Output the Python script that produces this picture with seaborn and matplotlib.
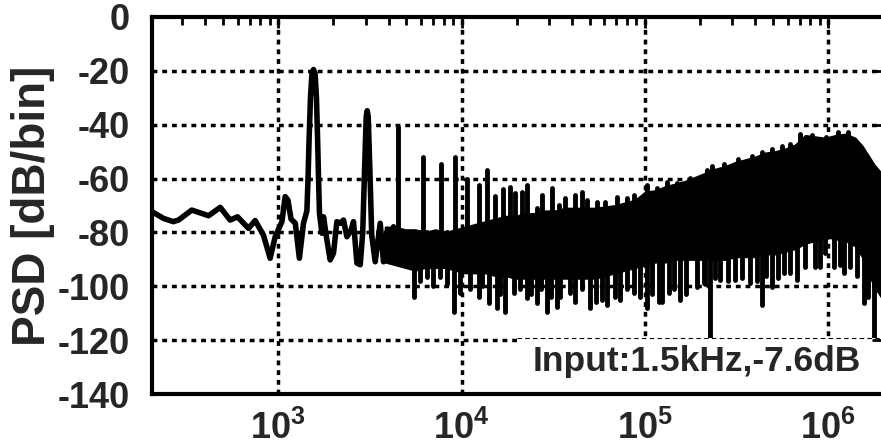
import numpy as np
import pandas as pd
import matplotlib
matplotlib.use("Agg")
import matplotlib.pyplot as plt
from matplotlib.patches import Rectangle
from matplotlib.ticker import FixedLocator, FixedFormatter, LogLocator, NullFormatter
import seaborn as sns

#%% data (Hz, dB/bin)
# low-frequency trace incl. fundamental and 2nd harmonic
lf_freq = [205, 237, 268, 286, 338, 417, 483, 547, 600, 689, 749, 831, 904, 963, 1048,
           1092, 1130, 1175, 1240, 1305, 1374, 1434, 1455, 1475, 1500, 1528, 1558, 1590,
           1617, 1640, 1660, 1680, 1732, 1767, 1844, 1921, 2003, 2090, 2179, 2271, 2370,
           2502, 2575, 2688, 2802, 2891, 2965, 3021, 3059, 3097, 3157, 3237, 3382, 3602,
           3753, 3918, 4083, 4256]
lf_db = [-72.3, -74.8, -76.0, -75.4, -71.7, -73.8, -70.7, -75.4, -74.2, -78.5, -75.6, -81.0,
         -89.6, -81.6, -76.0, -66.7, -68.0, -75.0, -76.6, -89.6, -76.6, -72.0, -60, -45, -30,
         -21, -19.5, -21, -30, -45, -60, -73, -80.3, -74.2, -82.8, -90.2, -87.7, -76.0,
         -76.6, -75.4, -81.6, -79.0, -76.0, -91.4, -92.0, -80, -55, -37, -34.8, -37, -55,
         -81, -90.9, -76.6, -90.9, -79.7, -89.5, -77.9]

# dense noise floor: upper / lower edge of the black band
band_freq = [3836, 4348, 4932, 5591, 6339, 7188, 8151, 9242, 10480, 11880, 13470, 15270,
             17310, 19630, 22260, 25240, 28620, 32450, 36790, 41720, 47300, 53630, 60810,
             68950, 78180, 88630, 100500, 114000, 129200, 146500, 166100, 188300, 213500,
             242100, 274500, 311200, 352900, 400200, 453800, 514500, 583300, 661400,
             749900, 850300, 964100, 1093000, 1239000, 1405000, 1535000, 1655000, 1784000,
             1948000]
band_top = [-78, -78, -79, -79, -80, -79, -80, -79, -78, -77, -76, -75, -74, -74, -73, -73,
            -72, -72, -71, -71, -71, -71, -70.5, -70, -69, -68, -65, -64.5, -63, -62, -61,
            -59.5, -58, -56.5, -55.5, -54, -53, -52, -50.5, -50, -49, -47.5, -44, -44.5,
            -45, -44, -43.5, -45, -48, -51.5, -55, -58]
band_bot = [-91, -92, -93, -94, -93, -93, -93, -94, -95, -95, -95, -96, -96, -97, -97, -97,
            -97, -97, -97, -97, -97, -97, -96, -95, -94, -93, -92, -91, -91, -90, -90,
            -90, -90, -90, -90, -89, -89, -89, -88, -88, -87, -86, -84, -83, -82, -82, -83,
            -85, -89, -95, -100, -104]

# harmonic spikes / teeth above the floor
harm_freq = [4530, 6160, 7720, 9240, 10700, 12380, 13760, 15270, 16820, 18440, 19630, 21360,
             22750, 25790, 27470, 31140, 33830, 36810, 41720, 45390, 48330, 54810, 60810,
             70460, 79890, 86800, 102700, 116500, 132000, 149700, 176900, 218200,
             233300, 271100, 323200, 385300, 436900, 495500, 561800, 621300, 704500,
             818900, 976300, 1136000, 1287000]
harm_db = [-40.7, -52, -54.5, -52, -60, -62.5, -57, -66.5, -64, -63, -65.5, -65, -62.5, -71,
           -66, -63.5, -70, -67.3, -66.1, -64.9, -68, -68.6, -68.6, -66.7, -67.3, -66.1,
           -62.4, -63.6, -61.2, -61.8, -59.9, -56.8,
           -55.5, -54.5, -52.8, -51.5, -50, -49, -48, -47, -43.5, -43.8, -44.5, -42.8, -42.8]

# downward notches below the floor
dip_freq = [5473, 5955, 6476, 7008, 7655, 8356, 9048, 9840, 11160, 12380, 12970, 14040,
            15610, 16260, 17310, 19210, 20900, 22740, 24010, 25790, 27220, 29240, 30860,
            33160, 34560, 39180, 41720, 45550, 50380, 54310, 58340, 62130, 68950, 73400,
            80200, 86790, 94400, 102700, 109700, 118800, 124400, 134700, 144700, 156100,
            168200, 192400, 209000, 213500, 227500, 242100, 257900, 285000, 311300, 339900,
            375800, 410400, 435500, 459500, 493500, 534100, 571100, 621300, 675900, 749900,
            850300, 905600, 964100, 1070000, 1164000, 1213000, 1320000, 1441000, 1560000,
            1655000, 1769000]
dip_db = [-103.8, -98, -96.4, -100, -96.4, -99, -109.4, -102.6, -101, -103.8, -100, -106.3,
          -108.2, -103, -109.4, -102.6, -101, -104.5, -103, -106.3, -101, -109.4, -104,
          -107.6, -104, -102.6, -106, -101, -108.2, -106, -105.1, -107, -103.8, -105,
          -101, -102.6, -104, -108.2, -103, -105.7, -106, -102.6, -101, -105.1,
          -103, -100.1, -98.9, -99, -125, -97, -97.7, -98, -97.7, -97,
          -98.9, -98, -107, -96, -100.1, -97, -95.2, -95, -97.7, -93,
          -92.7, -93, -87.8, -92.7, -92, -95.2, -93, -96, -106.3,
          -104, -125]

yticks = list(range(-140, 1, 20))
xticks = [1e3, 1e4, 1e5, 1e6]
xticklabels = [r'$10^{3}$', r'$10^{4}$', r'$10^{5}$', r'$10^{6}$']

#%% style
sns.set_style("white")
plt.rcParams['font.family'] = ['Liberation Sans', 'DejaVu Sans']
plt.rcParams['font.weight'] = 'bold'
plt.rcParams['axes.unicode_minus'] = False
plt.rcParams['mathtext.fontset'] = 'custom'
plt.rcParams['mathtext.rm'] = 'Liberation Sans:bold'
plt.rcParams['mathtext.it'] = 'Liberation Sans:bold'
plt.rcParams['mathtext.bf'] = 'Liberation Sans:bold'

fig = plt.figure(figsize=(8.81, 4.48), dpi=100)
ax = fig.add_axes([152/881, 54/448, 731.4/881, 377/448])
ax.set_axisbelow(False)

# dotted grid
for y in yticks[1:-1]:
    ax.axhline(y, color='k', lw=2.5, ls=(0, (1.4, 1.4)), zorder=1)
for xt in xticks:
    ax.axvline(xt, color='k', lw=2.5, ls=(0, (1.4, 1.4)), zorder=1)

#%% spectrum
lf = pd.DataFrame({'freq': lf_freq, 'psd': lf_db})
sns.lineplot(data=lf, x='freq', y='psd', sort=False, estimator=None, color='k',
             linewidth=4, ax=ax, zorder=2, solid_joinstyle='round')
ax.fill_between(band_freq, band_bot, band_top, color='k', linewidth=1.5, zorder=2)
ax.vlines(harm_freq, -82, harm_db, colors='k', linewidths=3.5, capstyle='round', zorder=2)
ax.vlines(dip_freq, -80, dip_db, colors='k', linewidths=3.5, capstyle='round', zorder=2)

# annotation box (white, thin dashed top edge)
ax.add_patch(Rectangle((20100, -150), 3e6, 30.8, facecolor='white', edgecolor='none',
                       zorder=2.2))
ax.hlines(-119.2, 20100, 3e6, colors='k', linewidths=0.8, linestyles=(0, (4, 3)), zorder=2.3)
ax.text(0.9694, 0.061, 'Input:1.5kHz,-7.6dB', transform=ax.transAxes, ha='right',
        va='baseline', fontsize=25.5, fontweight='bold', zorder=3)

#%% axes
ax.set_xscale('log')
ax.set_xlim(205, 2.0e6)
ax.set_ylim(-140, 0)
ax.xaxis.set_major_locator(FixedLocator(xticks))
ax.xaxis.set_major_formatter(FixedFormatter(xticklabels))
ax.xaxis.set_minor_locator(LogLocator(base=10, subs=np.arange(2, 10)))
ax.xaxis.set_minor_formatter(NullFormatter())
ax.set_yticks(yticks)
ax.set_yticklabels([str(v) for v in yticks])

ax.tick_params(which='both', direction='in', top=True, right=True, width=2, color='k')
ax.tick_params(which='major', length=8, labelsize=26)
ax.tick_params(which='minor', length=6)
ax.tick_params(axis='x', pad=12)
ax.tick_params(axis='y', pad=16)
for s in ax.spines.values():
    s.set_linewidth(3)
    s.set_color('k')

ax.set_xlabel('')
ax.set_ylabel('PSD [dB/bin]', fontsize=33, fontweight='bold', labelpad=2)

fig.savefig('out.png', dpi=100)
